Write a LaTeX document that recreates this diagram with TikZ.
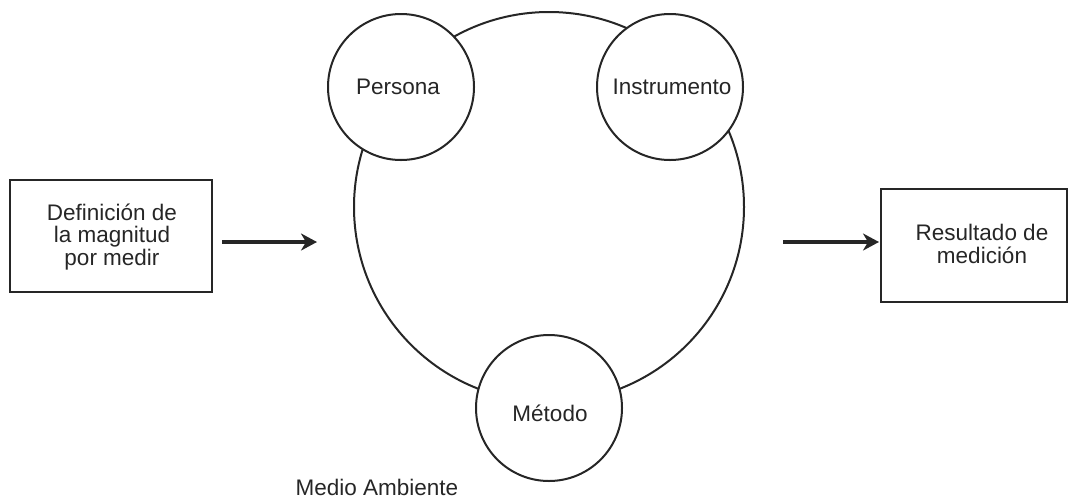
\documentclass[tikz,border=0pt]{standalone}
\usepackage{fontspec}
\setmainfont{Liberation Sans}
\usetikzlibrary{arrows.meta}
\begin{document}
\begin{tikzpicture}[x=1pt,y=-1pt,
  every node/.style={font=\fontsize{22.5}{22.5}\selectfont, text=black!85},
  ring/.style={circle, draw=black!85, line width=2pt, fill=white, inner sep=0pt},
  boxnode/.style={draw=black!85, line width=2pt, inner sep=0pt},
  arr/.style={line width=4pt, draw=black!85, -{Stealth[length=16pt,width=17pt,inset=5pt]}}]
\useasboundingbox (0,0) rectangle (1070,499);
\node[ring, minimum size=390pt] (big) at (549,207) {};
\node[ring, minimum size=146pt] (persona) at (401,87) {};
\node[ring, minimum size=146pt] (instr) at (670,87) {};
\node[ring, minimum size=146pt] (metodo) at (549,408) {};
\node at (398,87) {Persona};
\node at (672,87) {Instrumento};
\node at (550,413) {Método};
\node[boxnode, minimum width=202pt, minimum height=112pt] (lbox) at (111,236) {};
\node[align=center] (ltext) at (112,237) {Definición de\\la magnitud\\por medir};
\node[boxnode, minimum width=186pt, minimum height=113pt] (rbox) at (974,245.5) {};
\node[align=center] (rtext) at (982,244) {Resultado de\\medición};
\node[inner sep=0pt] (medio) at (377,487) {Medio Ambiente};
\coordinate (a1s) at (222,242);
\coordinate (a1e) at (317,242);
\coordinate (a2s) at (783,242);
\coordinate (a2e) at (879,242);
\draw[arr] (a1s) -- (a1e);
\draw[arr] (a2s) -- (a2e);
\end{tikzpicture}
\end{document}
